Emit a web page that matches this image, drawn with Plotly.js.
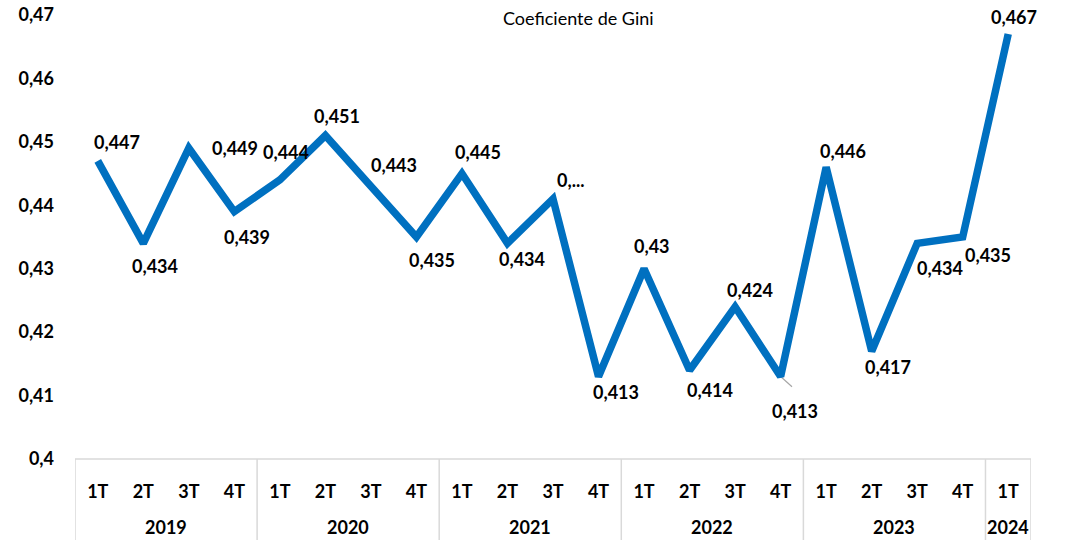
<!DOCTYPE html>
<html>
<head>
<meta charset="utf-8">
<script src="https://cdn.plot.ly/plotly-3.0.1.min.js"></script>
<style>html,body{margin:0;padding:0;background:#fff;}#chart{width:1071px;height:540px;}</style>
</head>
<body>
<div id="chart"></div>
<script>
// ---- data ----
const years = ["2019","2019","2019","2019","2020","2020","2020","2020","2021","2021","2021","2021","2022","2022","2022","2022","2023","2023","2023","2023","2024"];
const quarters = ["1T","2T","3T","4T","1T","2T","3T","4T","1T","2T","3T","4T","1T","2T","3T","4T","1T","2T","3T","4T","1T"];
const gini = [0.447,0.434,0.449,0.439,0.444,0.451,0.443,0.435,0.445,0.434,0.441,0.413,0.430,0.414,0.424,0.413,0.446,0.417,0.434,0.435,0.467];
const yTicks = [0.40,0.41,0.42,0.43,0.44,0.45,0.46,0.47];
const truncatedLabel = {10: "0,..."};

// ---- label offsets in pixels (dx right, dy up) ----
const labelOffsets = [[19,19],[12,-23],[46,0],[13,-25],[6,28],[12,20],[23,21],[16,-23],[16,22],[15,-16],
  [17,19],[17,-15],[8,23],[20,-20],[15,17],[14,-34],[17,16],[16,-16],[23,-25],[25,-18],[6,17]];

const idx = gini.map((_, i) => i);
const fmt = v => String(Math.round(v*1000)/1000).replace('.', ',');
const BOLD = "Lato, 'Open Sans', sans-serif";

const annotations = gini.map((v, i) => ({
  x: i, y: v, xref: 'x', yref: 'y',
  text: truncatedLabel[i] !== undefined ? truncatedLabel[i] : fmt(v),
  showarrow: false,
  xshift: labelOffsets[i][0], yshift: labelOffsets[i][1],
  font: {family: BOLD, size: 18, color: '#000', weight: 'bold'}
}));

// year labels
const uniqYears = [...new Set(years)];
uniqYears.forEach(y => {
  const ids = idx.filter(i => years[i] === y);
  const c = (ids[0] + ids[ids.length-1]) / 2;
  annotations.push({x: c, y: 0, xref: 'x', yref: 'paper', yanchor: 'middle', yshift: -68,
    text: y, showarrow: false, font: {family: BOLD, size: 18, color: '#000', weight: 'bold'}});
});
// title
annotations.push({x: 0.527, y: 1, xref: 'paper', yref: 'paper', xanchor: 'center', yanchor: 'middle', yshift: -3,
  text: 'Coeficiente de Gini', showarrow: false, font: {family: BOLD, size: 18, color: '#000'}});

const shapes = [];
// separators between years + borders
const bounds = [-0.5];
for (let i = 1; i < years.length; i++) if (years[i] !== years[i-1]) bounds.push(i - 0.5);
bounds.push(years.length - 0.5);
bounds.forEach(b => shapes.push({type: 'line', xref: 'x', yref: 'paper', x0: b, x1: b, y0: 0, y1: -0.25,
  line: {color: '#d9d9d9', width: 1.5}}));
shapes.push({type: 'line', xref: 'x', yref: 'paper', x0: -0.5, x1: years.length - 0.5, y0: 0, y1: 0,
  line: {color: '#d9d9d9', width: 1.5}});

const trace = {
  x: idx, y: gini, type: 'scatter', mode: 'lines',
  line: {color: '#0070C0', width: 7.5, shape: 'linear'},
  hoverinfo: 'skip'
};

// leader line for the displaced label
const leader = {
  x: [15, 15.25], y: [gini[15], gini[15] - 0.0016], type: 'scatter', mode: 'lines',
  line: {color: '#a6a6a6', width: 1.2}, hoverinfo: 'skip'
};

const layout = {
  width: 1071, height: 540,
  margin: {l: 75, r: 40, t: 15, b: 81},
  paper_bgcolor: '#fff', plot_bgcolor: '#fff',
  showlegend: false,
  xaxis: {range: [-0.5, 20.5], tickvals: idx, ticktext: quarters, showgrid: false, zeroline: false,
    showline: false, ticks: '', ticklabelstandoff: 20,
    tickfont: {family: BOLD, size: 18, color: '#000', weight: 'bold'}, fixedrange: true},
  yaxis: {range: [0.4, 0.47], tickvals: yTicks, ticktext: yTicks.map(fmt), showgrid: false, zeroline: false,
    showline: false, ticks: '', ticklabelstandoff: 20,
    tickfont: {family: BOLD, size: 18, color: '#000', weight: 'bold'}, fixedrange: true},
  annotations: annotations,
  shapes: shapes
};

Plotly.newPlot('chart', [leader, trace], layout, {displayModeBar: false, staticPlot: true});
</script>
</body>
</html>
